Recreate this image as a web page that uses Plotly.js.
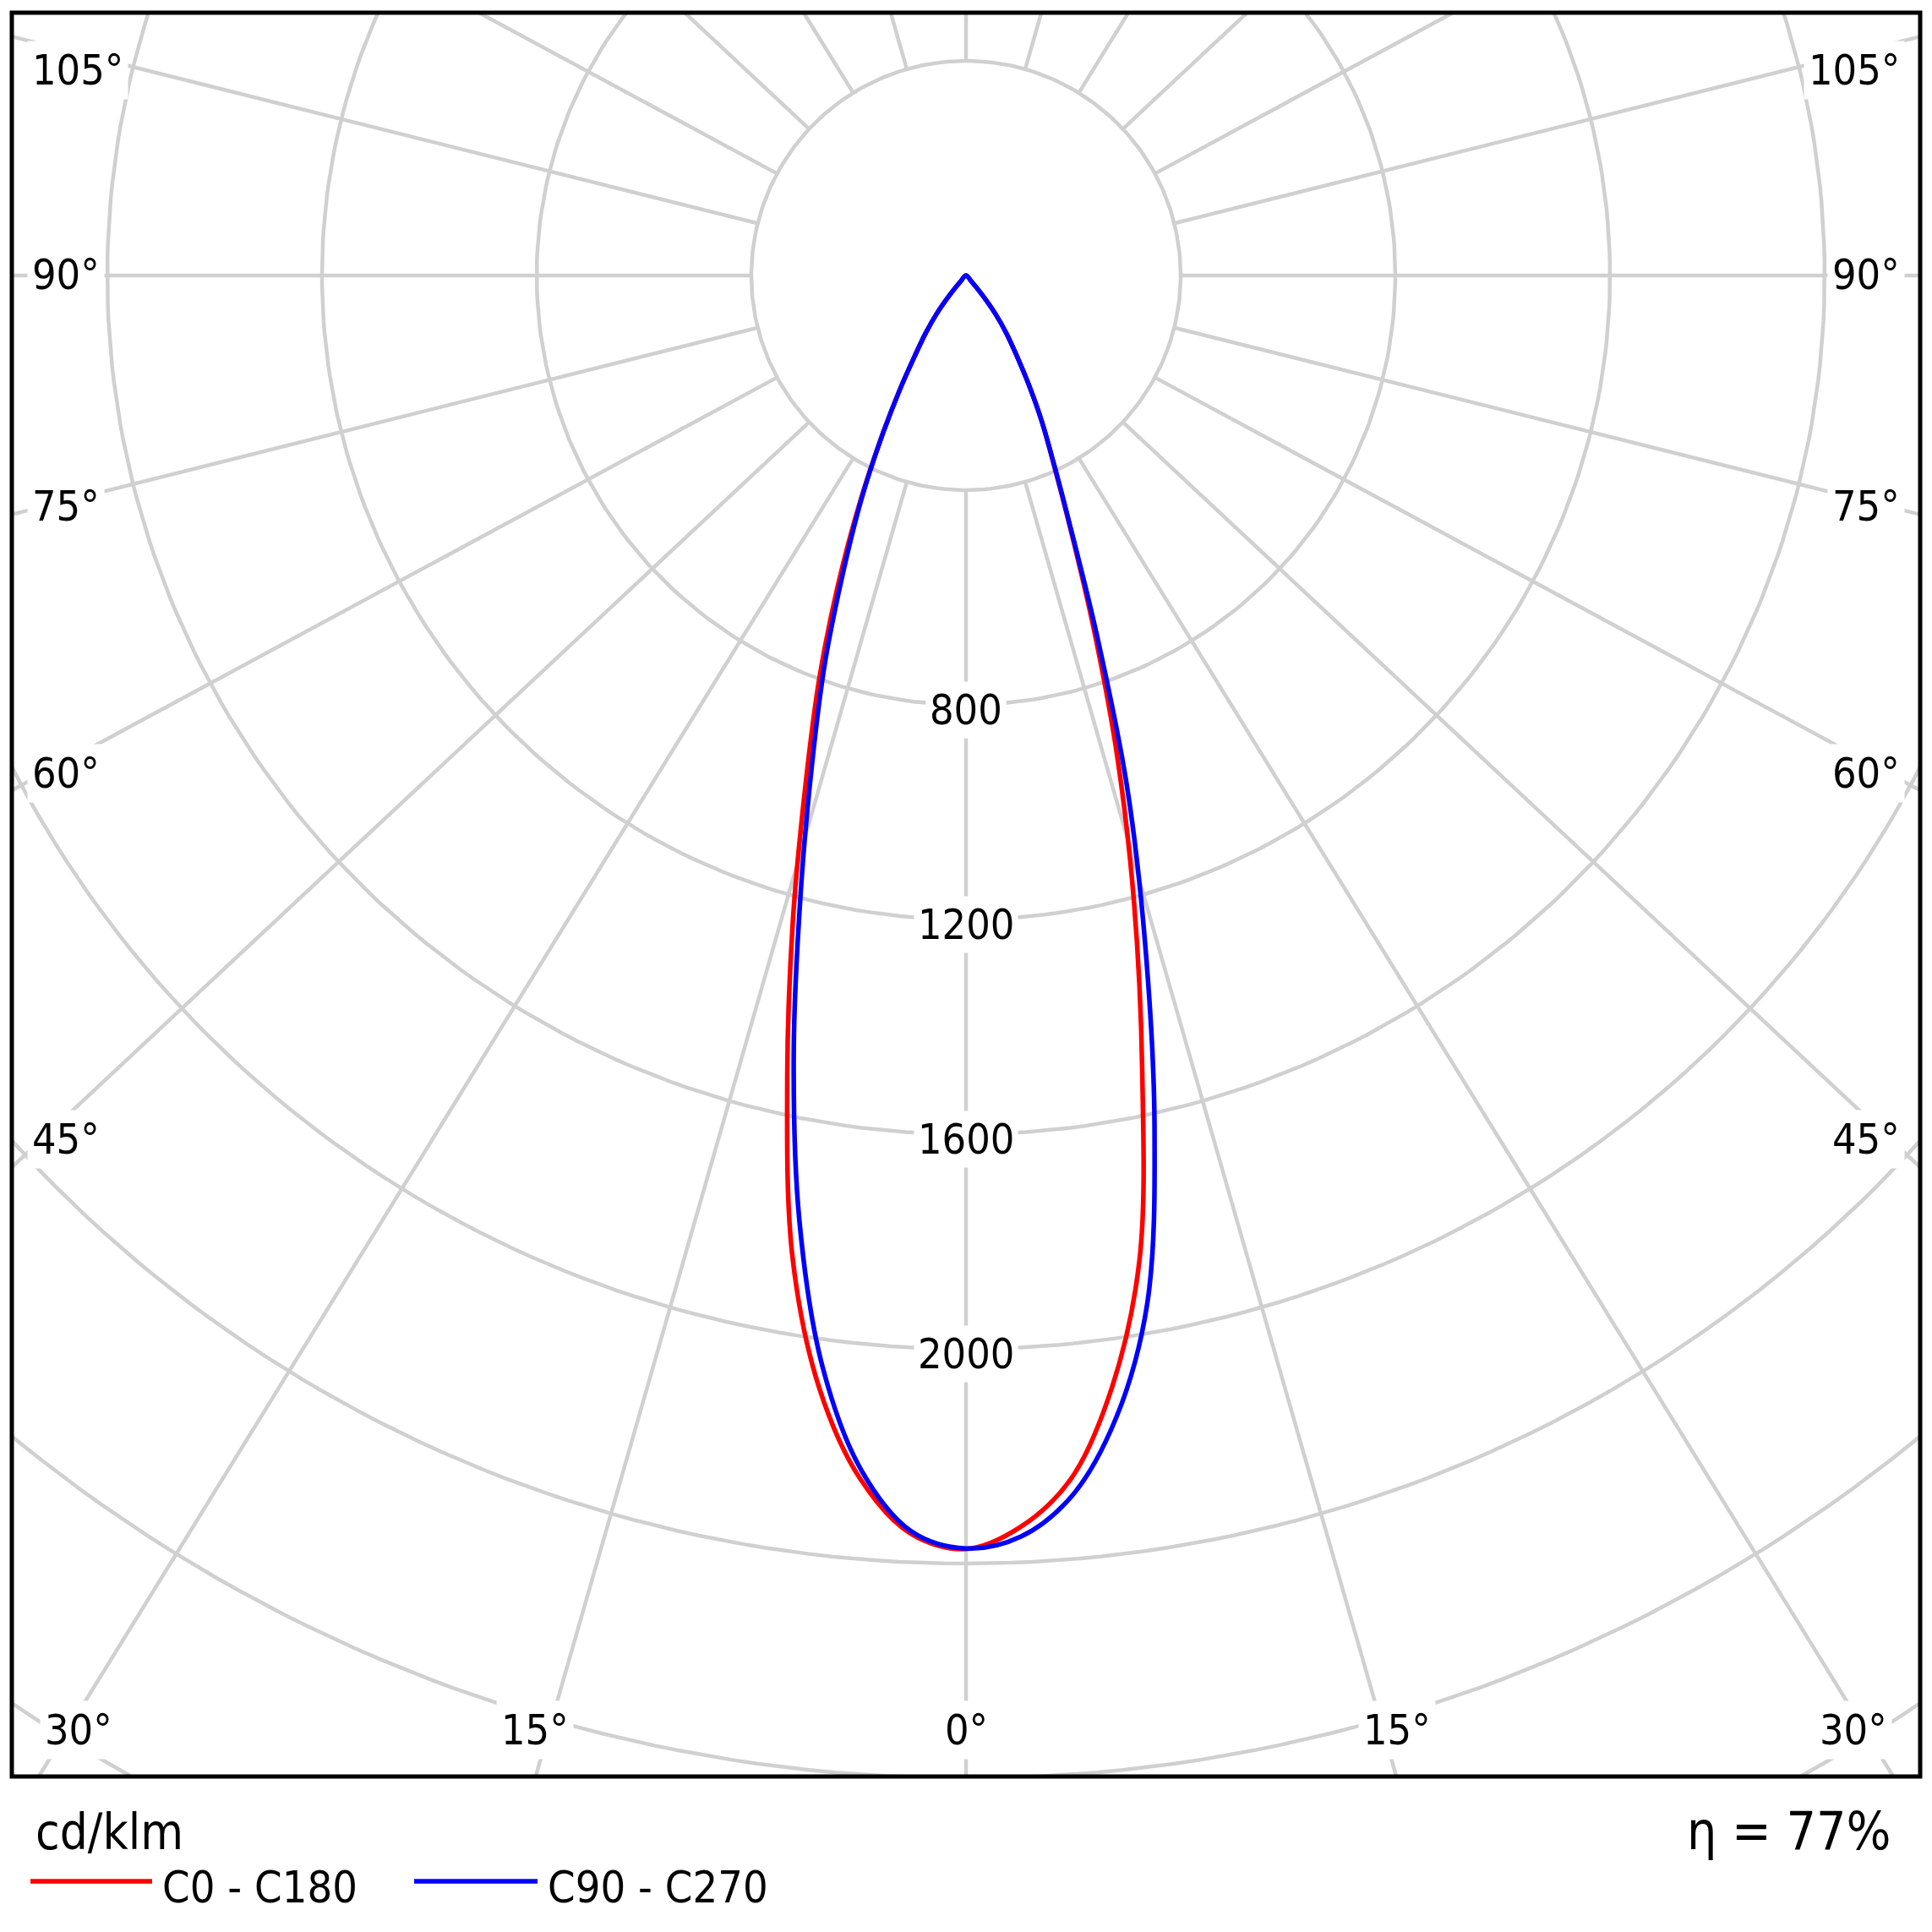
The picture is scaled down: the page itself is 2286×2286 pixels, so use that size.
<!DOCTYPE html>
<html>
<head>
<meta charset="utf-8">
<script src="https://cdn.plot.ly/plotly-3.0.1.min.js"></script>
<style>html,body{margin:0;padding:0;background:#ffffff;}</style>
</head>
<body>
<div id="chart" style="width:2286px;height:2286px;"></div>
<script>
// ---------------- data (cd/klm) ----------------
const gammaDeg = [0,2.5,5,7.5,10,12.5,15,17.5,20,22.5,25,27.5,30,32.5,35,37.5,40,42.5,45,
                  47.5,50,52.5,55,57.5,60,62.5,65,67.5,70,72.5,75,77.5,80,82.5,85,87.5,90];
// C0 - C180 plane (red): left half = C180, right half = C0
const c180 = [2373,2347,2252,2092,1860,1539,1247,994,799,622,470,345,249,178,131,90,47,15,0,
              0,0,0,0,0,0,0,0,0,0,0,0,0,0,0,0,0,0];
const c0   = [2373,2334,2250,2088,1862,1517,1210,935,690,505,385,305,232,173,131,90,47,15,0,
              0,0,0,0,0,0,0,0,0,0,0,0,0,0,0,0,0,0];
// C90 - C270 plane (blue): left half = C270, right half = C90
const c270 = [2372,2342,2235,2050,1788,1483,1190,954,769,598,463,343,249,177,131,90,47,15,0,
              0,0,0,0,0,0,0,0,0,0,0,0,0,0,0,0,0,0];
const c90  = [2372,2352,2281,2146,1945,1623,1290,997,713,510,388,305,232,173,131,90,47,15,0,
              0,0,0,0,0,0,0,0,0,0,0,0,0,0,0,0,0,0];

const seriesNames  = ['C0 - C180', 'C90 - C270'];
const seriesColors = ['#ff0000', '#0000ff'];

const ringValues   = [400,800,1200,1600,2000,2400,2800,3200];
const ringLabelled = [800,1200,1600,2000];
const spokeAngles  = [0,15,30,45,60,75,90,105,120,135,150,165,180];
const sideAngleLabels   = [105,90,75,60,45];
const bottomAngleLabels = [30,15,0];
const unitText = 'cd/klm';
const etaText  = 'η = 77%';

// ---------------- geometry / layout ----------------
const W = 2286, H = 2286;
const box = {l:14, r:2272, t:15, b:2102};
const cpx = {x:1143, y:326};
const S = 0.635;            // px per cd/klm
const spokeStretch = 1.07;  // horizontal stretch of the spoke directions
const xRange = [(box.l - cpx.x)/S, (box.r - cpx.x)/S];
const yRange = [(cpx.y - box.b)/S, (cpx.y - box.t)/S];
const dx = px => (px - cpx.x)/S;
const dy = py => (cpx.y - py)/S;
const rad = d => d*Math.PI/180;
const FONT = "'DejaVu Sans Condensed', 'DejaVu Sans', sans-serif";
const GRID = '#d0d0d0';

// rings
const ringX = [], ringY = [];
ringValues.forEach(r => {
  for (let t = 0; t <= 360; t += 1) { ringX.push(r*Math.sin(rad(t))); ringY.push(-r*Math.cos(rad(t))); }
  ringX.push(null); ringY.push(null);
});
// spokes
const spokeX = [], spokeY = [];
spokeAngles.forEach(a => {
  [-1, 1].forEach(side => {
    if ((a === 0 || a === 180) && side === 1) return;
    const ux = side*spokeStretch*Math.sin(rad(a)), uy = -Math.cos(rad(a));
    const n = Math.hypot(ux, uy);
    const t0 = ringValues[0]/n, t1 = 8000/n;
    spokeX.push(ux*t0, ux*t1, null); spokeY.push(uy*t0, uy*t1, null);
  });
});

function buildCurve(left, right) {
  const xs = [], ys = [];
  const endL = left.indexOf(0, 1), endR = right.indexOf(0, 1);
  for (let i = endL; i >= 0; i--) {
    const g = rad(gammaDeg[i]);
    xs.push(-left[i]*Math.sin(g)); ys.push(-left[i]*Math.cos(g));
  }
  for (let i = (right[0] === left[0] ? 1 : 0); i <= endR; i++) {
    const g = rad(gammaDeg[i]);
    xs.push(right[i]*Math.sin(g)); ys.push(-right[i]*Math.cos(g));
  }
  return {xs, ys};
}
const redC = buildCurve(c180, c0);
const blueC = buildCurve(c270, c90);

const traces = [
  {x: ringX, y: ringY, mode: 'lines', line: {color: GRID, width: 4.5}, hoverinfo: 'skip', showlegend: false},
  {x: spokeX, y: spokeY, mode: 'lines', line: {color: GRID, width: 4.5}, hoverinfo: 'skip', showlegend: false},
  {x: redC.xs, y: redC.ys, mode: 'lines', name: seriesNames[0], line: {color: seriesColors[0], width: 5.5, shape: 'spline', smoothing: 1}, showlegend: false},
  {x: blueC.xs, y: blueC.ys, mode: 'lines', name: seriesNames[1], line: {color: seriesColors[1], width: 5.5, shape: 'spline', smoothing: 1}, showlegend: false}
];

const annotations = [];
const lblFont = {family: FONT, size: 50, color: '#000000'};
ringLabelled.forEach(r => {
  annotations.push({x: 0, y: -r, xref: 'x', yref: 'y', text: String(r), showarrow: false,
    font: lblFont, bgcolor: '#ffffff', borderpad: 4, xanchor: 'center', yanchor: 'middle', yshift: -6});
});
const sideY = {105: 83, 90: 325, 75: 599, 60: 915, 45: 1348};
sideAngleLabels.forEach(a => {
  annotations.push({x: dx(32), y: dy(sideY[a]), xref: 'x', yref: 'y', text: a + '°', showarrow: false,
    font: lblFont, bgcolor: '#ffffff', borderpad: 5, xanchor: 'left', yanchor: 'middle'});
  annotations.push({x: dx(W - 32), y: dy(sideY[a]), xref: 'x', yref: 'y', text: a + '°', showarrow: false,
    font: lblFont, bgcolor: '#ffffff', borderpad: 5, xanchor: 'right', yanchor: 'middle'});
});
const bottomX = {30: 93, 15: 633, 0: 1143};
bottomAngleLabels.forEach(a => {
  const sides = a === 0 ? [1] : [-1, 1];
  sides.forEach(s => {
    const px = s < 0 ? bottomX[a] : (a === 0 ? bottomX[a] : 2*cpx.x - bottomX[a]);
    annotations.push({x: dx(px), y: dy(2047), xref: 'x', yref: 'y', text: a + '°', showarrow: false,
      font: lblFont, bgcolor: '#ffffff', borderpad: 5, xanchor: 'center', yanchor: 'middle'});
  });
});
// footer: unit, legend, efficiency
const PX = px => (px - box.l)/(box.r - box.l);
const PY = py => (box.b - py)/(box.b - box.t);
annotations.push({x: PX(40), y: PY(2168), xref: 'paper', yref: 'paper', text: unitText, showarrow: false,
  font: {family: FONT, size: 58, color: '#000'}, xanchor: 'left', yanchor: 'middle'});
annotations.push({x: PX(190), y: PY(2233), xref: 'paper', yref: 'paper', text: seriesNames[0], showarrow: false,
  font: {family: FONT, size: 52, color: '#000'}, xanchor: 'left', yanchor: 'middle'});
annotations.push({x: PX(646), y: PY(2233), xref: 'paper', yref: 'paper', text: seriesNames[1], showarrow: false,
  font: {family: FONT, size: 52, color: '#000'}, xanchor: 'left', yanchor: 'middle'});
annotations.push({x: PX(2240), y: PY(2166), xref: 'paper', yref: 'paper', text: etaText, showarrow: false,
  font: {family: FONT, size: 62, color: '#000'}, xanchor: 'right', yanchor: 'middle'});

const shapes = [
  {type: 'rect', xref: 'paper', yref: 'paper', x0: 0, x1: 1, y0: 0, y1: 1, line: {color: '#000', width: 5}, layer: 'above'},
  {type: 'line', xref: 'paper', yref: 'paper', x0: PX(36), x1: PX(180), y0: PY(2226), y1: PY(2226), line: {color: seriesColors[0], width: 5.5}},
  {type: 'line', xref: 'paper', yref: 'paper', x0: PX(490), x1: PX(636), y0: PY(2226), y1: PY(2226), line: {color: seriesColors[1], width: 5.5}}
];

const layout = {
  width: W, height: H,
  margin: {l: box.l, r: W - box.r, t: box.t, b: H - box.b, pad: 0},
  paper_bgcolor: '#ffffff', plot_bgcolor: '#ffffff',
  xaxis: {range: xRange, showgrid: false, zeroline: false, showticklabels: false, ticks: '', showline: false, fixedrange: true},
  yaxis: {range: yRange, showgrid: false, zeroline: false, showticklabels: false, ticks: '', showline: false, fixedrange: true},
  showlegend: false,
  annotations: annotations,
  shapes: shapes,
  font: {family: FONT}
};

Plotly.newPlot('chart', traces, layout, {displayModeBar: false, staticPlot: true});
</script>
</body>
</html>
